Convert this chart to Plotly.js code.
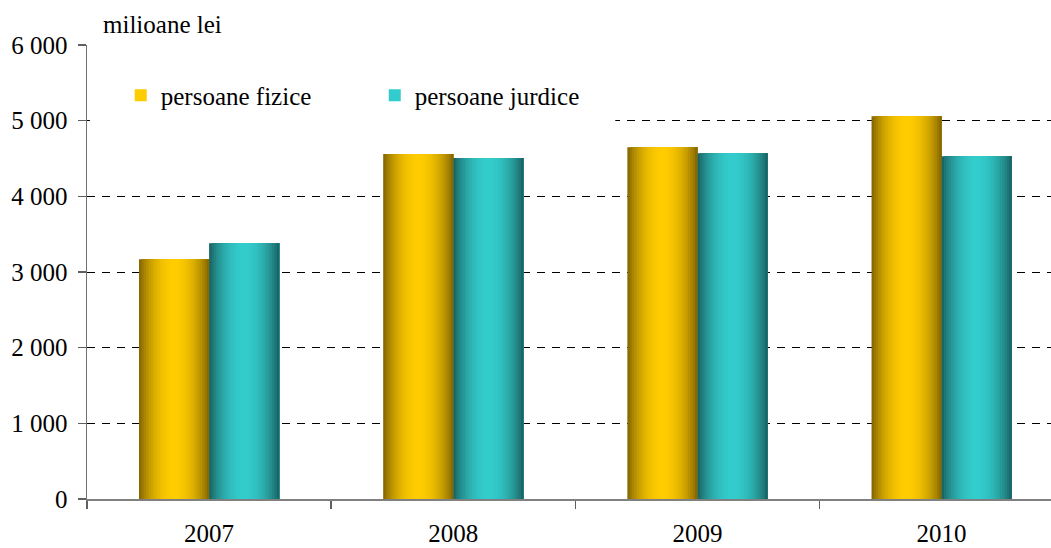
<!DOCTYPE html>
<html>
<head>
<meta charset="utf-8">
<script src="https://cdn.plot.ly/plotly-3.0.1.min.js"></script>
<style>
html,body{margin:0;padding:0;background:#fff;overflow:hidden;}
#chart{width:1051px;height:548px;}
</style>
</head>
<body>
<div id="chart"></div>
<script>
// ---- data ----
var years = ['2007', '2008', '2009', '2010'];
var fizice = [3170, 4560, 4650, 5060];
var juridice = [3380, 4505, 4570, 4530];
var seriesNames = ['persoane fizice', 'persoane jurdice'];
var unitLabel = 'milioane lei';

// ---- style ----
var FONT = "'Liberation Serif', 'Times New Roman', Times, serif";
var FS = 25;
var BAR_W = 0.287;
var SLICES = 30;
var palettes = [
  {dark: [122, 94, 0], bright: [255, 204, 0]},
  {dark: [24, 90, 90], bright: [51, 204, 204]}
];

function shade(p, t) {
  var b = Math.pow(Math.sin(Math.PI * t), 0.75);
  var c = p.dark.map(function (d, k) { return Math.round(d + (p.bright[k] - d) * b); });
  return 'rgb(' + c.join(',') + ')';
}

var traces = [];
[fizice, juridice].forEach(function (vals, s) {
  var base = s === 0 ? -BAR_W : 0;
  for (var i = 0; i < SLICES; i++) {
    var start = base + i * BAR_W / SLICES;
    var t = (i + 0.5) / SLICES;
    traces.push({
      type: 'bar',
      x: years,
      y: vals,
      name: seriesNames[s],
      legendgroup: seriesNames[s],
      showlegend: i === Math.floor(SLICES * 0.5),
      offset: start,
      width: base + BAR_W - start,
      marker: {color: shade(palettes[s], t), line: {width: 0}},
      hoverinfo: 'skip'
    });
  }
});

var layout = {
  width: 1051,
  height: 548,
  margin: {l: 87, r: 0, t: 45, b: 49},
  paper_bgcolor: '#fff',
  plot_bgcolor: '#fff',
  barmode: 'overlay',
  separators: ', ',
  font: {family: FONT, size: FS, color: '#000'},
  showlegend: true,
  legend: {
    orientation: 'h',
    x: 0.035, xanchor: 'left',
    y: 0.889, yanchor: 'middle',
    bgcolor: 'rgba(255,255,255,1)',
    borderwidth: 0,
    entrywidth: 209,
    entrywidthmode: 'pixels',
    font: {family: FONT, size: FS, color: '#000'},
    traceorder: 'normal'
  },
  xaxis: {
    type: 'category',
    range: [-0.5, 3.448],
    showgrid: false,
    showline: true,
    linecolor: '#808080',
    linewidth: 2,
    ticks: 'outside',
    tickson: 'boundaries',
    ticklen: 8,
    tickcolor: '#606060',
    tickwidth: 1.5,
    ticklabelstandoff: 11,
    tickfont: {family: FONT, size: FS, color: '#000'},
    zeroline: false,
    fixedrange: true
  },
  yaxis: {
    range: [0, 6000],
    tickvals: [0, 1000, 2000, 3000, 4000, 5000, 6000],
    tickformat: ',d',
    showgrid: true,
    gridcolor: '#000',
    gridwidth: 1,
    griddash: '8px,7px',
    showline: true,
    linecolor: '#707070',
    linewidth: 1.5,
    ticks: 'outside',
    ticklen: 8,
    tickcolor: '#606060',
    tickwidth: 1.5,
    ticklabelstandoff: 5,
    tickfont: {family: FONT, size: FS, color: '#000'},
    zeroline: false,
    fixedrange: true
  },
  shapes: [{
    type: 'rect', layer: 'above',
    xref: 'paper', yref: 'y',
    x0: 0.003, x1: 0.548, y0: 4960, y1: 5040,
    fillcolor: '#fff', line: {width: 0}
  }],
  annotations: [{
    text: unitLabel,
    xref: 'paper', yref: 'paper',
    x: 0.0145, y: 1.046,
    xanchor: 'left', yanchor: 'middle',
    showarrow: false,
    font: {family: FONT, size: FS, color: '#000'}
  }]
};

Plotly.newPlot('chart', traces, layout, {displayModeBar: false, staticPlot: true});
</script>
</body>
</html>
